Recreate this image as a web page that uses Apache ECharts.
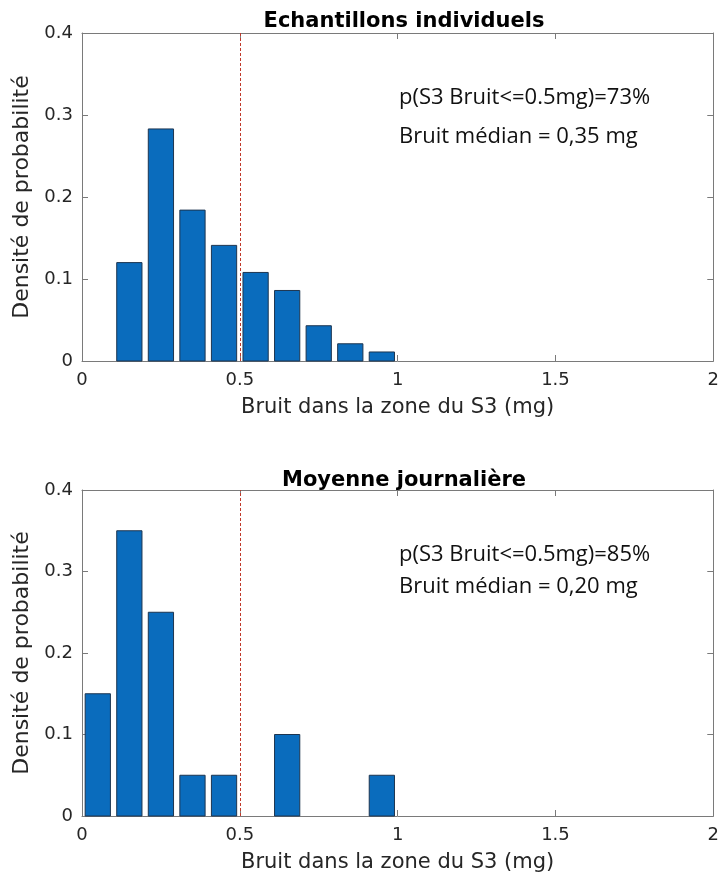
<!DOCTYPE html>
<html>
<head>
<meta charset="utf-8">
<script src="https://cdn.jsdelivr.net/npm/echarts@6/dist/echarts.min.js"></script>
<style>
  html, body { margin: 0; padding: 0; background: #fff; }
  #chart { width: 722px; height: 877px; }
</style>
</head>
<body>
<div id="chart"></div>
<script>
// bins de 0.1 mg (borne gauche)
const binsTop = [0.1, 0.2, 0.3, 0.4, 0.5, 0.6, 0.7, 0.8, 0.9];
const densTop = [0.12, 0.283, 0.184, 0.141, 0.108, 0.086, 0.043, 0.021, 0.011];
const binsBottom = [0.0, 0.1, 0.2, 0.3, 0.4, 0.5, 0.6, 0.7, 0.8, 0.9];
const densBottom = [0.15, 0.35, 0.25, 0.05, 0.05, 0, 0.10, 0, 0, 0.05];
const binWidth = 0.1;
const seuil = 0.5;
const titles = ['Echantillons individuels', 'Moyenne journalière'];
const notesTop = ['p(S3 Bruit<=0.5mg)=73%', 'Bruit médian = 0,35 mg'];
const notesBottom = ['p(S3 Bruit<=0.5mg)=85%', 'Bruit médian = 0,20 mg'];
const xName = 'Bruit dans la zone du S3 (mg)';
const yName = 'Densité de probabilité';

const FONT = 'DejaVu Sans';
const NOTE_FONT = 'Open Sans';
const AXIS_COLOR = '#7a7a7a';
const TEXT_COLOR = '#262626';
const BAR_COLOR = '#0a6cbd';

const chart = echarts.init(document.getElementById('chart'));

function renderBar(params, api) {
  const x0 = api.value(0);
  const h = api.value(1);
  if (!h) return null;
  const pad = binWidth * 0.1;
  const p1 = api.coord([x0 + pad, h]);
  const p2 = api.coord([x0 + binWidth - pad, 0]);
  return {
    type: 'rect',
    shape: { x: p1[0], y: p1[1], width: p2[0] - p1[0], height: p2[1] - p1[1] },
    style: { fill: BAR_COLOR, stroke: '#1d3550', lineWidth: 1 }
  };
}

function xAxes(gi) {
  return [
    {
      type: 'value', gridIndex: gi, min: 0, max: 2, interval: 0.5,
      name: xName, nameLocation: 'middle', nameGap: 36,
      nameTextStyle: { fontFamily: FONT, fontSize: 21, color: TEXT_COLOR },
      axisLine: { onZero: false, lineStyle: { color: AXIS_COLOR } },
      axisTick: { inside: true, length: 6, lineStyle: { color: AXIS_COLOR } },
      axisLabel: { fontFamily: FONT, fontSize: 18, color: TEXT_COLOR, margin: 10,
        formatter: v => String(v) },
      splitLine: { show: false }
    },
    {
      type: 'value', gridIndex: gi, min: 0, max: 2, interval: 0.5, position: 'top',
      axisLine: { show: true, onZero: false, lineStyle: { color: AXIS_COLOR } },
      axisTick: { show: true, inside: true, length: 6, lineStyle: { color: AXIS_COLOR } },
      axisLabel: { show: false }, splitLine: { show: false }
    }
  ];
}

function yAxes(gi) {
  return [
    {
      type: 'value', gridIndex: gi, min: 0, max: 0.4, interval: 0.1,
      name: yName, nameLocation: 'middle', nameGap: 47, nameRotate: 90,
      nameTextStyle: { fontFamily: FONT, fontSize: 22, color: TEXT_COLOR },
      axisLine: { show: true, onZero: false, lineStyle: { color: AXIS_COLOR } },
      axisTick: { show: true, inside: true, length: 6, lineStyle: { color: AXIS_COLOR } },
      axisLabel: { fontFamily: FONT, fontSize: 18, color: TEXT_COLOR, margin: 9,
        formatter: v => String(v) },
      splitLine: { show: false }
    },
    {
      type: 'value', gridIndex: gi, min: 0, max: 0.4, interval: 0.1, position: 'right',
      axisLine: { show: true, onZero: false, lineStyle: { color: AXIS_COLOR } },
      axisTick: { show: true, inside: true, length: 6, lineStyle: { color: AXIS_COLOR } },
      axisLabel: { show: false }, splitLine: { show: false }
    }
  ];
}

function histSeries(gi, bins, dens) {
  return {
    type: 'custom',
    xAxisIndex: gi * 2, yAxisIndex: gi * 2,
    renderItem: renderBar,
    data: bins.map((b, i) => [b, dens[i]]),
    silent: true,
    markLine: {
      silent: true, symbol: 'none', label: { show: false },
      lineStyle: { color: '#c0392b', type: [3, 2], width: 1 },
      data: [{ xAxis: seuil }]
    }
  };
}

const noteStyle = { fontFamily: NOTE_FONT, fontSize: 22, fill: '#111' };
const titleStyle = { fontFamily: FONT, fontSize: 21, fontWeight: 'bold', color: '#000' };

const option = {
  animation: false,
  backgroundColor: '#fff',
  title: [
    { text: titles[0], left: 399, top: 6, textAlign: 'center', textStyle: titleStyle },
    { text: titles[1], left: 399, top: 465, textAlign: 'center', textStyle: titleStyle }
  ],
  grid: [
    { left: 82, right: 6, top: 33, height: 328 },
    { left: 82, right: 6, top: 490, height: 326 }
  ],
  xAxis: [...xAxes(0), ...xAxes(1)],
  yAxis: [...yAxes(0), ...yAxes(1)],
  series: [
    histSeries(0, binsTop, densTop),
    histSeries(1, binsBottom, densBottom)
  ],
  graphic: [
    { type: 'text', left: 399, top: 87, style: { ...noteStyle, text: notesTop[0] } },
    { type: 'text', left: 399, top: 126, style: { ...noteStyle, text: notesTop[1] } },
    { type: 'text', left: 399, top: 544, style: { ...noteStyle, text: notesBottom[0] } },
    { type: 'text', left: 399, top: 576, style: { ...noteStyle, text: notesBottom[1] } }
  ]
};

chart.setOption(option);
</script>
</body>
</html>
